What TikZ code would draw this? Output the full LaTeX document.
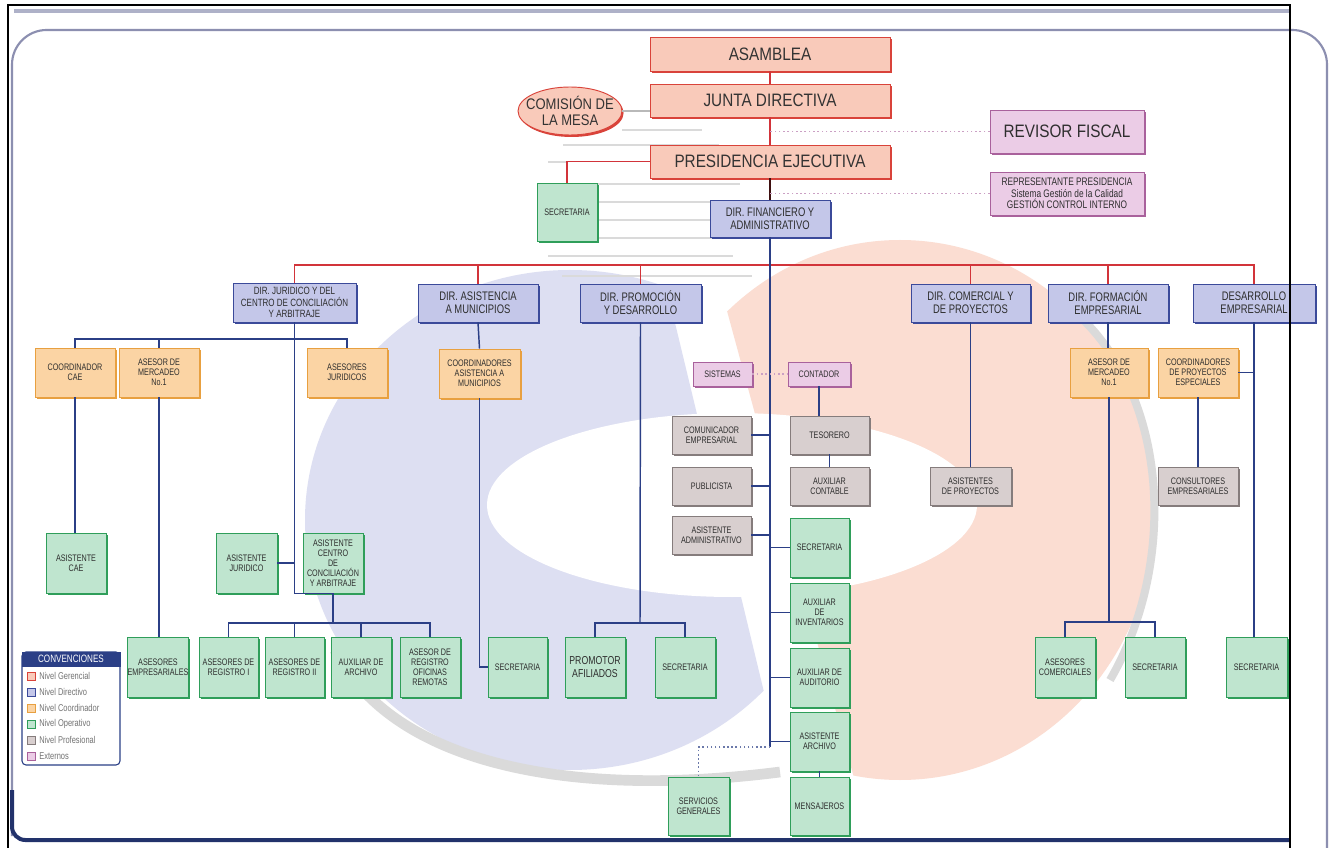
\documentclass[tikz,border=0pt]{standalone}
\usepackage{fontspec}
\setmainfont{Liberation Sans}
\newfontfamily\nar{Liberation Sans}[FakeStretch=0.85]
\newfontfamily\narr{Liberation Sans}[FakeStretch=0.76]
\usetikzlibrary{shadows,shapes.geometric}
\definecolor{gerF}{HTML}{F9CABA}
\definecolor{gerD}{HTML}{D9433A}
\definecolor{dirF}{HTML}{C4C7E9}
\definecolor{dirD}{HTML}{3B4A9A}
\definecolor{cooF}{HTML}{FBD4A4}
\definecolor{cooD}{HTML}{E8A040}
\definecolor{opeF}{HTML}{BFE5CF}
\definecolor{opeD}{HTML}{2F9E5A}
\definecolor{proF}{HTML}{D8CFCF}
\definecolor{proD}{HTML}{857C7C}
\definecolor{extF}{HTML}{EBCCE6}
\definecolor{extD}{HTML}{A9619C}
\definecolor{redL}{HTML}{D2343A}
\definecolor{navL}{HTML}{2B3F86}
\definecolor{txt}{HTML}{2E2E2E}
\definecolor{bgB}{HTML}{DDDFF2}
\definecolor{bgS}{HTML}{FBDDD2}
\definecolor{bgG}{HTML}{DADADA}
\definecolor{frameC}{HTML}{8C8FB0}
\newcommand\Bx[7]{\node[#2, minimum width={(#5-#3)*0.75pt}, minimum height={(#6-#4)*0.75pt}] (#1) at ({(#3+#5)/2},{(#4+#6)/2}) {#7};}
\tikzset{
  bxs/.style={draw, line width=0.7pt, inner sep=0.3pt, align=center, text=txt, font=\narr\fontsize{7.1}{7.5}\selectfont},
  ger/.style={bxs, fill=gerF, draw=gerD, general shadow={fill=gerD, shadow xshift=1.3pt, shadow yshift=-1.6pt}, font=\nar\fontsize{13.5}{14}\selectfont, text=black!80},
  dir/.style={bxs, fill=dirF, draw=dirD, general shadow={fill=dirD, shadow xshift=1.2pt, shadow yshift=-1.5pt}, font=\narr\fontsize{9.3}{10}\selectfont},
  coo/.style={bxs, fill=cooF, draw=cooD, general shadow={fill=cooD, shadow xshift=1.2pt, shadow yshift=-1.5pt}},
  ope/.style={bxs, fill=opeF, draw=opeD, general shadow={fill=opeD, shadow xshift=1.2pt, shadow yshift=-1.5pt}},
  pro/.style={bxs, fill=proF, draw=proD, general shadow={fill=proD, shadow xshift=1.2pt, shadow yshift=-1.5pt}},
  ext/.style={bxs, fill=extF, draw=extD, general shadow={fill=extD, shadow xshift=1.2pt, shadow yshift=-1.5pt}},
  rl/.style={draw=redL, line width=1.3pt},
  dkl/.style={draw=black!70!redL, line width=1.2pt},
  nl/.style={draw=navL, line width=1.1pt},
  dotl/.style={draw=extD!60, line width=1.2pt, dotted},
  dotn/.style={draw=navL!70, line width=1.1pt, dotted},
  stripe/.style={draw=bgG, line width=2pt},
  lsq/.style={draw, line width=0.5pt, minimum size=6pt, inner sep=0},
  ltx/.style={anchor=west, inner sep=0, font=\narr\fontsize{7.4}{8}\selectfont, text=black!55},
}
\begin{document}
\begin{tikzpicture}[x=0.75pt,y=-0.75pt]
\useasboundingbox (0,0) rectangle (1332,848);
\fill[white] (0,0) rectangle (1332,848);
% ---------- background logo ----------
\begin{scope}
  \clip (250,240) -- (655,240) -- (790,800) -- (250,800) -- cycle;
  \fill[bgB] (570,520) ellipse [x radius=265, y radius=250];
\end{scope}
\begin{scope}
  \clip (705,230) -- (1200,230) -- (1200,800) -- (860,800) -- cycle;
  \fill[bgS] (900,510) ellipse [x radius=255, y radius=270];
\end{scope}
\fill[white] (732,505) ellipse [x radius=245, y radius=92];
\draw[bgG, line width=8pt] (335,650) .. controls (390,760) and (560,800) .. (780,772);
\draw[bgG, line width=6pt] (1060,300) .. controls (1170,380) and (1180,560) .. (1110,680);
\draw[stripe] (622,130) -- (702,130);
\draw[stripe] (563,145) -- (719,145);
\draw[stripe] (548,162) -- (567,162);
\draw[stripe] (597,184) -- (740,184);
\draw[stripe] (597,202) -- (712,202);
\draw[stripe] (597,220) -- (712,220);
\draw[stripe] (597,238) -- (712,238);
\draw[stripe] (548,256) -- (733,256);
\draw[stripe] (562,276) -- (752,276);
% ---------- frame ----------
\draw[frameC!70, line width=3pt] (14,11) -- (1290,11);
\draw[frameC, line width=1.6pt, rounded corners=26pt] (12,836) -- (12,30) -- (1327,30) -- (1327,848);
\draw[navL!80!black, line width=3pt, rounded corners=10pt] (12,790) -- (12,840) -- (1290,840);
% ---------- top level ----------
\Bx{asam}{ger}{650}{37}{890}{71}{ASAMBLEA}
\Bx{junta}{ger}{650}{84}{890}{117}{JUNTA DIRECTIVA}
\Bx{pres}{ger}{650}{145}{890}{178}{PRESIDENCIA EJECUTIVA}
\node[ellipse, fill=gerF, draw=gerD, line width=0.7pt, minimum width=78pt, minimum height=36pt, inner sep=0,
      general shadow={fill=gerD, shadow xshift=1.2pt, shadow yshift=-1.5pt}] (com) at (570,111) {};
\node[align=center, inner sep=0, font=\nar\fontsize{11.5}{12}\selectfont, text=black!80] (comt) at (com) {COMISIÓN DE\\LA MESA};
\Bx{revf}{ext, font=\nar\fontsize{13.5}{14}\selectfont}{990}{110}{1144}{153}{REVISOR FISCAL}
\Bx{rep}{ext, font=\narr\fontsize{8.2}{8.6}\selectfont}{990}{172}{1144}{215}{REPRESENTANTE PRESIDENCIA\\Sistema Gestión de la Calidad\\GESTIÓN CONTROL INTERNO}
\Bx{sec0}{ope}{537}{183}{597}{241}{SECRETARIA}
\Bx{dfin}{dir}{710}{200}{830}{237}{DIR. FINANCIERO Y\\ADMINISTRATIVO}
% ---------- directors ----------
\Bx{djur}{dir, font=\narr\fontsize{7.9}{8.4}\selectfont}{233}{283}{356}{322}{DIR. JURIDICO Y DEL\\CENTRO DE CONCILIACIÓN\\Y ARBITRAJE}
\Bx{dmun}{dir}{418}{284}{538}{322}{DIR. ASISTENCIA\\A MUNICIPIOS}
\Bx{dpro}{dir}{580}{284}{701}{322}{DIR. PROMOCIÓN\\Y DESARROLLO}
\Bx{dcom}{dir}{911}{284}{1030}{322}{DIR. COMERCIAL Y\\DE PROYECTOS}
\Bx{dfor}{dir}{1048}{284}{1168}{322}{DIR. FORMACIÓN\\EMPRESARIAL}
\Bx{ddes}{dir}{1193}{284}{1315}{322}{DESARROLLO\\EMPRESARIAL}
% ---------- coordinators ----------
\Bx{cae}{coo}{35}{348}{115}{397}{COORDINADOR\\CAE}
\Bx{mer1}{coo}{119}{348}{199}{397}{ASESOR DE\\MERCADEO\\No.1}
\Bx{asj}{coo}{307}{348}{387}{397}{ASESORES\\JURIDICOS}
\Bx{cmun}{coo}{439}{349}{520}{398}{COORDINADORES\\ASISTENCIA A\\MUNICIPIOS}
\Bx{mer2}{coo}{1070}{348}{1148}{397}{ASESOR DE\\MERCADEO\\No.1}
\Bx{cpe}{coo}{1158}{348}{1238}{397}{COORDINADORES\\DE PROYECTOS\\ESPECIALES}
% ---------- financial column ----------
\Bx{sis}{ext}{693}{362}{752}{386}{SISTEMAS}
\Bx{con}{ext}{788}{362}{850}{386}{CONTADOR}
\Bx{com2}{pro}{672}{416}{751}{454}{COMUNICADOR\\EMPRESARIAL}
\Bx{pub}{pro}{672}{467}{751}{505}{PUBLICISTA}
\Bx{aadm}{pro}{672}{516}{751}{554}{ASISTENTE\\ADMINISTRATIVO}
\Bx{tes}{pro}{790}{416}{869}{454}{TESORERO}
\Bx{auxc}{pro}{790}{467}{869}{505}{AUXILIAR\\CONTABLE}
\Bx{sfin}{ope}{790}{518}{849}{577}{SECRETARIA}
\Bx{ainv}{ope}{790}{583}{849}{642}{AUXILIAR\\DE\\INVENTARIOS}
\Bx{aaud}{ope}{790}{648}{849}{707}{AUXILIAR DE\\AUDITORIO}
\Bx{aarc}{ope}{790}{712}{849}{771}{ASISTENTE\\ARCHIVO}
\Bx{mens}{ope}{790}{777}{849}{835}{MENSAJEROS}
\Bx{serv}{ope}{668}{777}{729}{835}{SERVICIOS\\GENERALES}
% ---------- professionals right ----------
\Bx{aproy}{pro}{930}{467}{1011}{505}{ASISTENTES\\DE PROYECTOS}
\Bx{cons}{pro}{1158}{467}{1238}{505}{CONSULTORES\\EMPRESARIALES}
% ---------- operatives ----------
\Bx{acae}{ope}{46}{533}{106}{593}{ASISTENTE\\CAE}
\Bx{ajur}{ope}{216}{533}{277}{593}{ASISTENTE\\JURIDICO}
\Bx{acen}{ope}{303}{533}{363}{593}{ASISTENTE\\CENTRO\\DE\\CONCILIACIÓN\\Y ARBITRAJE}
\Bx{aemp}{ope}{128}{637}{188}{697}{ASESORES\\EMPRESARIALES}
\Bx{reg1}{ope}{199}{637}{258}{697}{ASESORES DE\\REGISTRO I}
\Bx{reg2}{ope}{265}{637}{324}{697}{ASESORES DE\\REGISTRO II}
\Bx{aarch}{ope}{331}{637}{391}{697}{AUXILIAR DE\\ARCHIVO}
\Bx{rofi}{ope}{400}{637}{460}{697}{ASESOR DE\\REGISTRO\\OFICINAS\\REMOTAS}
\Bx{smun}{ope}{488}{637}{547}{697}{SECRETARIA}
\Bx{prom}{ope, font=\narr\fontsize{8.6}{9.4}\selectfont}{565}{637}{625}{697}{PROMOTOR\\AFILIADOS}
\Bx{spro}{ope}{655}{637}{715}{697}{SECRETARIA}
\Bx{acom}{ope}{1035}{637}{1095}{697}{ASESORES\\COMERCIALES}
\Bx{sfor}{ope}{1125}{637}{1185}{697}{SECRETARIA}
\Bx{sdes}{ope}{1226}{637}{1287}{697}{SECRETARIA}
% ---------- coordinates ----------
\coordinate (rbus) at (770,265);
\coordinate (jbus) at (294,339);
\coordinate (jbus2) at (333,623);
\coordinate (pbus) at (640,623);
\coordinate (fbus) at (1109,622);
\coordinate (cend) at (770,747);
% ---------- connectors ----------
\draw[rl] (asam.south) -- (junta.north);
\draw[rl] (junta.south) -- (pres.north);
\draw[dkl] (pres.south) -- (dfin.north);
\draw[gray!55, line width=1.2pt] (com.east) -- (com.east -| junta.west);
\draw[rl] (pres.west) -| (sec0.north);
\draw[dotl] (revf.west) -- (revf.west -| dfin.north);
\draw[dotl] (rep.west) -- (rep.west -| dfin.north);
\draw[rl] (djur.north) |- (rbus) -| (ddes.north);
\draw[rl] (dmun.north) -- (dmun.north |- rbus);
\draw[rl] (dpro.north) -- (dpro.north |- rbus);
\draw[rl] (dcom.north) -- (dcom.north |- rbus);
\draw[rl] (dfor.north) -- (dfor.north |- rbus);
% juridico
\draw[nl] (cae.north) |- (jbus) -| (asj.north);
\draw[nl] (mer1.north) -- (mer1.north |- jbus);
\draw[nl] (djur.south) |- (acen.south);
\draw[nl] (ajur.east) -- (ajur.east -| djur.south);
\draw[nl] (cae.south) -- (cae.south |- acae.north);
\draw[nl] (mer1.south) -- (mer1.south |- aemp.north);
\draw[nl] (acen.south) -- (jbus2);
\draw[nl] (reg1.north) |- (jbus2) -| (rofi.north);
\draw[nl] (reg2.north) -- (reg2.north |- jbus2);
\draw[nl] (aarch.north) -- (aarch.north |- jbus2);
% municipios
\draw[nl] (dmun.south) -- (cmun.north);
\draw[nl] (cmun.south) |- (smun.west);
% promocion
\draw[nl] (dpro.south) -- (pbus);
\draw[nl] (prom.north) |- (pbus) -| (spro.north);
% financiero
\draw[nl] (dfin.south) -- (cend);
\draw[dotl] (sis.east) -- (con.west);
\draw[nl] (con.south) -- (con.south |- tes.north);
\draw[nl] (tes.south) -- (tes.south |- auxc.north);
\draw[nl] (com2.east) -- (com2.east -| cend);
\draw[nl] (pub.east) -- (pub.east -| cend);
\draw[nl] (aadm.east) -- (aadm.east -| cend);
\draw[nl] (sfin.west) -- (sfin.west -| cend);
\draw[nl] (ainv.west) -- (ainv.west -| cend);
\draw[nl] (aaud.west) -- (aaud.west -| cend);
\draw[nl] (aarc.west) -- (aarc.west -| cend);
\draw[nl] (aarc.south) -- (mens.north);
\draw[dotn] (cend) -| (serv.north);
% comercial
\draw[nl] (dcom.south) -- (dcom.south |- aproy.north);
% formacion
\draw[nl] (dfor.south) -- (dfor.south |- mer2.north);
\draw[nl] (mer2.south) -- (mer2.south |- fbus);
\draw[nl] (acom.north) |- (fbus) -| (sfor.north);
% desarrollo
\draw[nl] (ddes.south) -- (ddes.south |- sdes.north);
\draw[nl] (cpe.east) -- (cpe.east -| ddes.south);
\draw[nl] (cpe.south) -- (cpe.south |- cons.north);
% ---------- legend ----------
\draw[navL, line width=0.8pt, fill=white, rounded corners=3pt] (22,652) rectangle (120,765);
\Bx{lgh}{bxs, fill=navL, draw=navL, text=white, font=\narr\fontsize{8}{8.5}\selectfont}{22}{652}{120}{666}{CONVENCIONES}
\node[lsq, fill=gerF, draw=gerD] (lg1) at (31,676) {};
\node[ltx] (lt1) at (39,676) {Nivel Gerencial};
\node[lsq, fill=dirF, draw=dirD] (lg2) at (31,692) {};
\node[ltx] (lt2) at (39,692) {Nivel Directivo};
\node[lsq, fill=cooF, draw=cooD] (lg3) at (31,708) {};
\node[ltx] (lt3) at (39,708) {Nivel Coordinador};
\node[lsq, fill=opeF, draw=opeD] (lg4) at (31,724) {};
\node[ltx] (lt4) at (39,724) {Nivel Operativo};
\node[lsq, fill=proF, draw=proD] (lg5) at (31,740) {};
\node[ltx] (lt5) at (39,740) {Nivel Profesional};
\node[lsq, fill=extF, draw=extD] (lg6) at (31,756) {};
\node[ltx] (lt6) at (39,756) {Externos};
% ---------- outer black lines ----------
\draw[black, line width=2pt] (8,848) -- (8,5) -- (1290,5) -- (1290,848);
\end{tikzpicture}
\end{document}
